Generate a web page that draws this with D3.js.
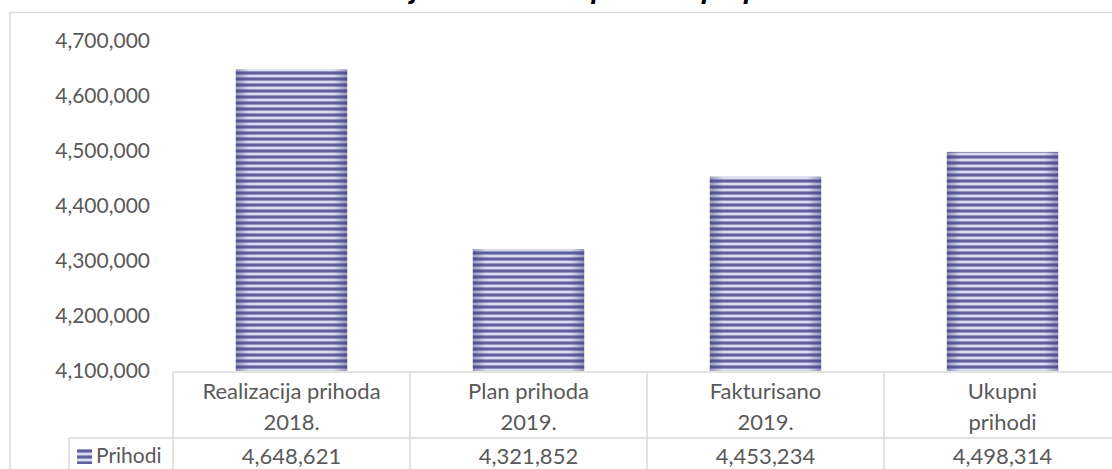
<!DOCTYPE html>
<html>
<head>
<meta charset="utf-8">
<script src="https://cdn.jsdelivr.net/npm/d3@7"></script>
<style>
  html, body { margin: 0; padding: 0; background: #fff; overflow: hidden; }
  svg { display: block; }
  text { font-family: Lato, "Open Sans", sans-serif; fill: #595959; }
</style>
</head>
<body>
<svg id="chart" width="1112" height="469"></svg>
<script>
// data
const categories = [
  ["Realizacija prihoda", "2018."],
  ["Plan prihoda", "2019."],
  ["Fakturisano", "2019."],
  ["Ukupni", "prihodi"]
];
const prihodi = [4648621, 4321852, 4453234, 4498314];
const yTicks = [4100000, 4200000, 4300000, 4400000, 4500000, 4600000, 4700000];
const seriesName = "Prihodi";
const title = "Realizacija ostvarenih prihoda po planu";

var width = 1112, height = 469;
var svg = d3.select("#chart");
var grey = "#d9d9d9";

// bar fill: horizontal stripes + darker side shading
var defs = svg.append("defs");
var pat = defs.append("pattern")
    .attr("id", "stripes")
    .attr("patternUnits", "userSpaceOnUse")
    .attr("width", 8).attr("height", 6);
pat.append("rect").attr("width", 8).attr("height", 6).attr("fill", "#9494c4");
pat.append("rect").attr("y", 0).attr("width", 8).attr("height", 2).attr("fill", "#60609c");
pat.append("rect").attr("y", 3).attr("width", 8).attr("height", 2).attr("fill", "#dcdcef");

var grad = defs.append("linearGradient").attr("id", "shade")
    .attr("x1", "0%").attr("x2", "100%").attr("y1", "0%").attr("y2", "0%");
grad.append("stop").attr("offset", "0%").attr("stop-color", "#3e3e7a").attr("stop-opacity", 0.45);
grad.append("stop").attr("offset", "12%").attr("stop-color", "#3e3e7a").attr("stop-opacity", 0);
grad.append("stop").attr("offset", "88%").attr("stop-color", "#3e3e7a").attr("stop-opacity", 0);
grad.append("stop").attr("offset", "100%").attr("stop-color", "#3e3e7a").attr("stop-opacity", 0.45);

// chart frame
svg.append("rect")
    .attr("x", 10).attr("y", 12.5)
    .attr("width", 1300).attr("height", 600)
    .attr("fill", "none").attr("stroke", grey).attr("stroke-width", 1.5);

// title (cut off above the frame, as in the original)
svg.append("text")
    .attr("x", 555).attr("y", -2)
    .attr("text-anchor", "middle")
    .style("font-family", "'Liberation Sans', Arial, sans-serif")
    .style("font-weight", "bold").style("font-style", "italic")
    .style("font-size", "28px").style("fill", "#000")
    .text(title);

var plotLeft = 173, plotRight = 1121;
var yScale = d3.scaleLinear().domain([4100000, 4700000]).range([371, 41]);
var colScale = d3.scaleBand().domain(d3.range(categories.length)).range([plotLeft, plotRight]);
var barScale = d3.scaleBand().domain(d3.range(categories.length)).range([plotLeft, plotRight])
    .paddingInner(0.53).paddingOuter(0.265);

// y axis labels
var yAxis = svg.append("g")
    .attr("transform", "translate(150,0)")
    .call(d3.axisLeft(yScale).tickValues(yTicks).tickFormat(d3.format(",")).tickSize(0).tickPadding(0));
yAxis.select(".domain").remove();
yAxis.selectAll("text")
    .attr("fill", "#595959")
    .style("font-family", "Lato, sans-serif")
    .style("font-size", "21px");

// bars
var bars = svg.append("g").selectAll("g.bar")
    .data(prihodi)
    .enter().append("g").attr("class", "bar");
bars.append("rect")
    .attr("x", (d, i) => barScale(i))
    .attr("y", d => yScale(d))
    .attr("width", barScale.bandwidth())
    .attr("height", d => yScale(4100000) - yScale(d))
    .attr("fill", "url(#stripes)");
bars.append("rect")
    .attr("x", (d, i) => barScale(i))
    .attr("y", d => yScale(d))
    .attr("width", barScale.bandwidth())
    .attr("height", d => yScale(4100000) - yScale(d))
    .attr("fill", "url(#shade)");

// data table
var tY0 = 372, tY1 = 438, tY2 = 500;
var table = svg.append("g").attr("stroke", grey).attr("stroke-width", 1.5);
table.append("line").attr("x1", plotLeft).attr("x2", width).attr("y1", tY0).attr("y2", tY0);
table.append("line").attr("x1", 69).attr("x2", width).attr("y1", tY1).attr("y2", tY1);
table.append("line").attr("x1", 69).attr("x2", 69).attr("y1", tY1).attr("y2", tY2);
table.selectAll("line.col")
    .data(d3.range(categories.length))
    .enter().append("line").attr("class", "col")
    .attr("x1", i => colScale(i)).attr("x2", i => colScale(i))
    .attr("y1", tY0).attr("y2", tY2);

var catText = svg.append("g").selectAll("text")
    .data(categories)
    .enter().append("text")
    .attr("text-anchor", "middle")
    .style("font-size", "22px");
catText.append("tspan")
    .attr("x", (d, i) => colScale(i) + colScale.bandwidth() / 2)
    .attr("y", 391).attr("dy", "0.35em")
    .text(d => d[0]);
catText.append("tspan")
    .attr("x", (d, i) => colScale(i) + colScale.bandwidth() / 2)
    .attr("y", 422).attr("dy", "0.35em")
    .text(d => d[1]);

svg.append("g").selectAll("text")
    .data(prihodi)
    .enter().append("text")
    .attr("x", (d, i) => colScale(i) + colScale.bandwidth() / 2)
    .attr("y", 456).attr("dy", "0.35em")
    .attr("text-anchor", "middle")
    .style("font-size", "22px")
    .text(d => d3.format(",")(d));

// legend key in table
svg.append("rect")
    .attr("x", 77).attr("y", 449).attr("width", 15).attr("height", 15)
    .attr("fill", "url(#stripes)");
svg.append("text")
    .attr("x", 96).attr("y", 456).attr("dy", "0.35em")
    .style("font-size", "21px")
    .text(seriesName);
</script>
</body>
</html>
